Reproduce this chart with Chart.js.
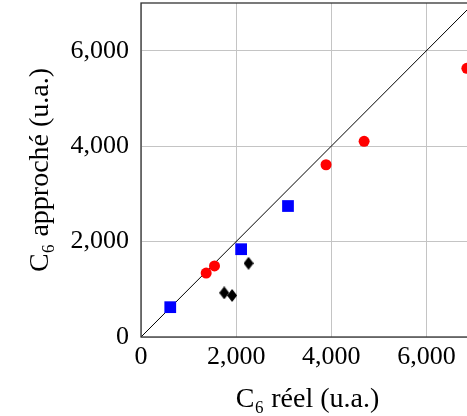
<!DOCTYPE html>
<html>
<head>
<meta charset="utf-8">
<script src="https://cdn.jsdelivr.net/npm/chart.js@4"></script>
<style>
  html, body { margin: 0; padding: 0; overflow: hidden; background: #fff; }
  #wrap { width: 475px; height: 416px; }
</style>
</head>
<body>
<div id="wrap"><canvas id="myChart" width="475" height="416"></canvas></div>
<script>
// values (u.a.)
const redX = [1370, 1545, 3890, 4690, 6850];
const redY = [1340, 1490, 3610, 4100, 5630];
const blueX = [615, 2105, 3090];
const blueY = [625, 1840, 2745];
const blackX = [1750, 1915, 2260];
const blackY = [925, 870, 1545];
const diagX = [0, 7000];
const diagY = [0, 7000];
const axisTicks = [0, 2000, 4000, 6000];

const toPts = (xs, ys) => xs.map((x, i) => ({ x: x, y: ys[i] }));

// tall black diamond marker
const diamond = document.createElement('canvas');
diamond.width = 10;
diamond.height = 13;
const dctx = diamond.getContext('2d');
dctx.fillStyle = '#000';
dctx.beginPath();
dctx.moveTo(5, 0);
dctx.lineTo(10, 6.5);
dctx.lineTo(5, 13);
dctx.lineTo(0, 6.5);
dctx.closePath();
dctx.fill();

const frame = {
  id: 'frame',
  afterDatasetsDraw(chart) {
    const a = chart.chartArea;
    const c = chart.ctx;
    c.save();
    c.strokeStyle = '#333';
    c.lineWidth = 1.3;
    c.strokeRect(a.left, a.top, a.right - a.left, a.bottom - a.top);
    c.restore();
  }
};

const family = '"Liberation Serif", "DejaVu Serif", serif';
const tickFont = { family: family, size: 26 };
const titleFont = { family: family, size: 28 };
const fmt = v => v.toLocaleString('en-US');

const ctx = document.getElementById('myChart');
new Chart(ctx, {
  type: 'scatter',
  data: {
    datasets: [
      {
        label: 'rouge',
        data: toPts(redX, redY),
        pointStyle: 'circle',
        pointRadius: 5.5,
        backgroundColor: '#ff0000',
        borderWidth: 0
      },
      {
        label: 'bleu',
        data: toPts(blueX, blueY),
        pointStyle: 'rect',
        pointRadius: 8.3,
        backgroundColor: '#0000ff',
        borderWidth: 0
      },
      {
        label: 'noir',
        data: toPts(blackX, blackY),
        pointStyle: diamond,
        pointRadius: 6,
        backgroundColor: '#000',
        borderWidth: 0
      },
      {
        type: 'line',
        label: 'y = x',
        data: toPts(diagX, diagY),
        borderColor: '#000',
        borderWidth: 1,
        pointRadius: 0,
        fill: false
      }
    ]
  },
  options: {
    responsive: false,
    animation: false,
    layout: { autoPadding: false, padding: { top: 3, right: 1, left: 0, bottom: 0 } },
    plugins: { legend: { display: false }, tooltip: { enabled: false } },
    scales: {
      x: {
        type: 'linear',
        min: 0,
        max: 7000,
        afterBuildTicks: s => { s.ticks = axisTicks.map(v => ({ value: v })); },
        afterFit: s => { s.height = 79; s.paddingLeft = 0; s.paddingRight = 0; },
        grid: { color: '#c4c4c4', lineWidth: 1, drawTicks: false },
        border: { display: false },
        ticks: { font: tickFont, color: '#000', padding: 5, maxRotation: 0, callback: fmt },
        title: { display: true, text: 'C₆ réel (u.a.)', font: titleFont, color: '#000', padding: { top: 2, bottom: 0 } }
      },
      y: {
        type: 'linear',
        min: 0,
        max: 7000,
        afterBuildTicks: s => { s.ticks = axisTicks.map(v => ({ value: v })); },
        afterFit: s => { s.width = 141; s.paddingTop = 0; s.paddingBottom = 0; },
        grid: { color: '#c4c4c4', lineWidth: 1, drawTicks: false },
        border: { display: false },
        ticks: { font: tickFont, color: '#000', padding: 12, callback: fmt },
        title: { display: true, text: 'C₆ approché (u.a.)', font: titleFont, color: '#000', padding: { top: 24, bottom: 0 } }
      }
    }
  },
  plugins: [frame]
});
</script>
</body>
</html>
